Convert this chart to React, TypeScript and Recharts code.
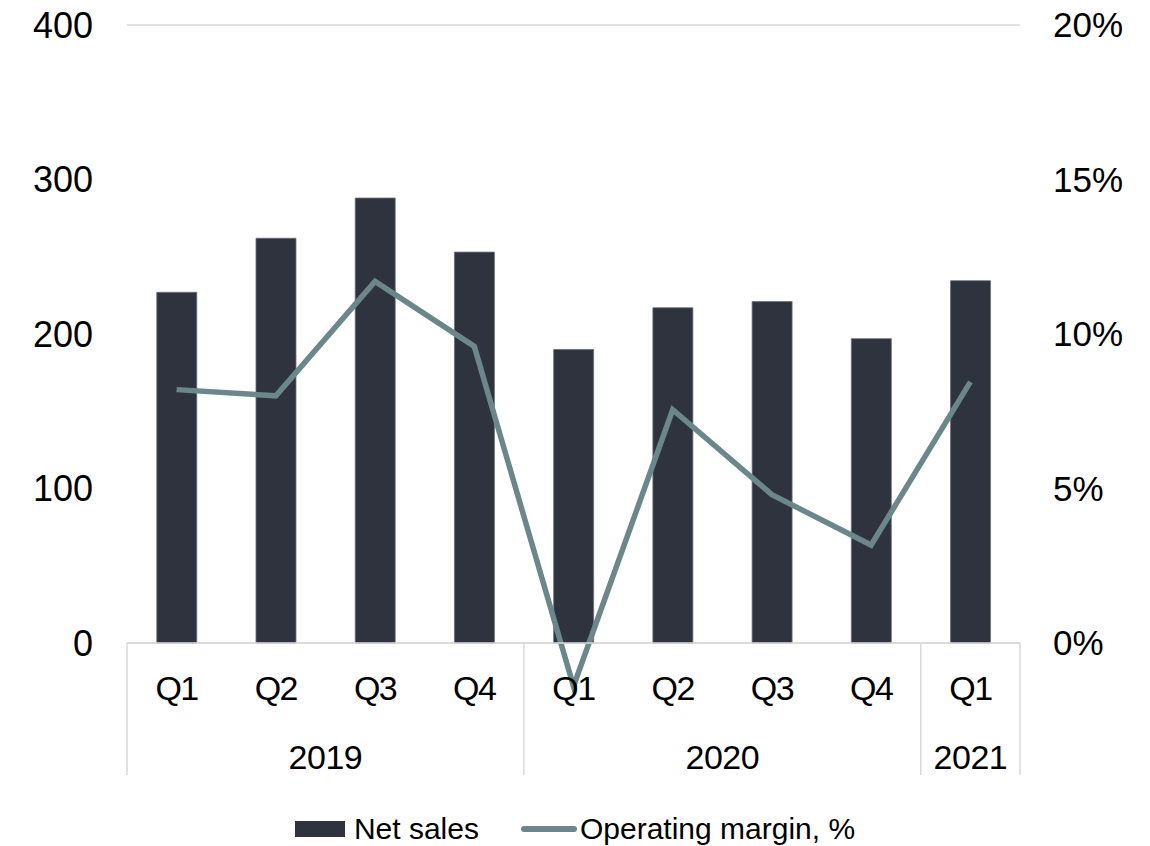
import { Bar, CartesianGrid, ComposedChart, Legend, Line, XAxis, YAxis } from "recharts";

const quarters = ["Q1", "Q2", "Q3", "Q4", "Q1", "Q2", "Q3", "Q4", "Q1"];
const years = ["2019", "2019", "2019", "2019", "2020", "2020", "2020", "2020", "2021"];
const netSales = [227, 262, 288, 253, 190, 217, 221, 197, 234.5];
const operatingMargin = [8.2, 8.0, 11.7, 9.6, -1.4, 7.55, 4.8, 3.17, 8.45];
const salesTicks = [0, 100, 200, 300, 400];
const marginTicks = [0, 5, 10, 15, 20];

const FONT = "'Liberation Sans', Arial, sans-serif";
const BAR = "#2f333e";
const LINE = "#6b878a";
const GRID = "#d9d9d9";

const data = quarters.map((q, i) => ({
  key: `${years[i]} ${q}`,
  sales: netSales[i],
  margin: operatingMargin[i],
}));

function PeriodTick(props: any) {
  const { x, y, payload } = props;
  const i = payload.index;
  const half = payload.offset ?? 0;
  const year = years[i];
  const first = i === 0 || years[i - 1] !== year;
  const last = i === years.length - 1;
  const groupSize = years.filter((v) => v === year).length;
  return <g>
    <text x={x} y={y + 57} textAnchor="middle" fontFamily={FONT} fontSize={34} letterSpacing={-1.5} fill="#000">{quarters[i]}</text>
    {first && <line x1={x - half} x2={x - half} y1={y} y2={y + 132} stroke={GRID} strokeWidth={1.5} />}
    {first && <text x={x - half + groupSize * half} y={y + 126} textAnchor="middle" fontFamily={FONT} fontSize={34} letterSpacing={-0.5} fill="#000">{year}</text>}
    {last && <line x1={x + half} x2={x + half} y1={y} y2={y + 132} stroke={GRID} strokeWidth={1.5} />}
  </g>;
}

function LegendContent({ payload }: any) {
  return <div style={{ display: "flex", justifyContent: "center", alignItems: "center", height: 34, fontFamily: FONT, fontSize: 30, color: "#000" }}>
    {(payload || []).map((entry: any, i: number) => <div key={entry.value} style={{ display: "flex", alignItems: "center", marginLeft: i === 0 ? 0 : 42 }}>
      {entry.type === "line"
        ? <span style={{ width: 56, height: 6, borderRadius: 3, background: entry.color, marginRight: 3 }} />
        : <span style={{ width: 50, height: 16, background: entry.color, marginRight: 9 }} />}
      <span>{entry.value}</span>
    </div>)}
  </div>;
}

export default function App() {
  return <div style={{ position: "absolute", left: 0, top: 0, width: 1150, height: 846, background: "#fff" }}>
    <style>{".recharts-line, .recharts-line * { clip-path: none !important; }"}</style>
    <ComposedChart width={1150} height={846} data={data} margin={{ top: 25, right: 0, bottom: 0, left: 0 }} barCategoryGap="30%">
      <CartesianGrid vertical={false} stroke={GRID} strokeWidth={1.5} />
      <XAxis dataKey="key" interval={0} height={169} tickLine={false} tickSize={0} tickMargin={0} axisLine={{ stroke: GRID, strokeWidth: 1.5 }} tick={<PeriodTick />} />
      <YAxis yAxisId="sales" orientation="left" width={127} domain={[0, 400]} ticks={salesTicks} axisLine={false} tickLine={false} tickSize={0} tickMargin={34}
        tick={{ fontFamily: FONT, fontSize: 36, fill: "#000" }} />
      <YAxis yAxisId="margin" orientation="right" width={130} domain={[0, 20]} ticks={marginTicks} allowDataOverflow axisLine={false} tickLine={false} tickSize={0} tickMargin={33}
        tickFormatter={(v) => `${v}%`} tick={{ fontFamily: FONT, fontSize: 35, fill: "#000" }} />
      <Bar yAxisId="sales" dataKey="sales" name="Net sales" fill={BAR} stroke="#6a707a" strokeWidth={0.8} isAnimationActive={false} legendType="rect" />
      <Line yAxisId="margin" dataKey="margin" name="Operating margin, %" type="linear" stroke={LINE} strokeWidth={5.5} dot={false} activeDot={false} isAnimationActive={false} legendType="line" />
      <Legend verticalAlign="bottom" height={34} content={<LegendContent />} />
    </ComposedChart>
  </div>;
}
